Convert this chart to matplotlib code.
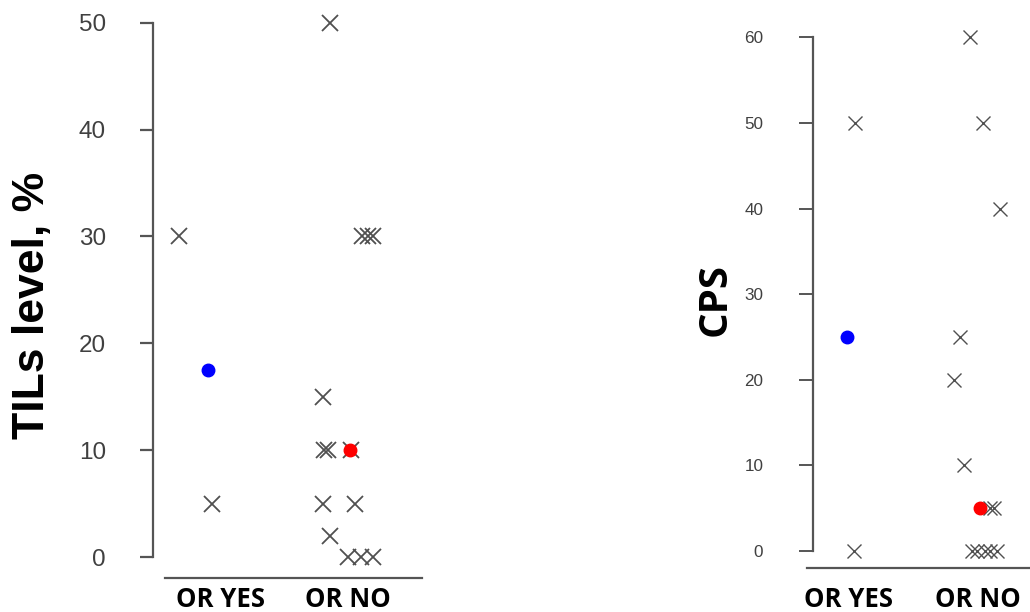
"""
Dot plots of TILs level and CPS for OR YES / OR NO groups,
with the group median drawn as a filled dot.
"""

import matplotlib
matplotlib.use("Agg")
import matplotlib.pyplot as plt

plt.rcParams["font.family"] = ["Liberation Sans", "DejaVu Sans"]

# --- data -------------------------------------------------------------------
groups = ["OR YES", "OR NO"]

# TILs level, %  (x offsets are the jitter, in group units)
tils_yes = [30, 5]
tils_yes_jit = [-0.318, -0.060]
tils_no = [50, 30, 30, 30, 15, 10, 10, 10, 5, 5, 2, 0, 0, 0]
tils_no_jit = [-0.141, 0.107, 0.159, 0.198, -0.193, -0.188, -0.156, 0.023,
               -0.198, 0.055, -0.141, 0.0, 0.099, 0.198]
tils_median = [17.5, 10]
tils_median_jit = [-0.096, 0.016]

# CPS
cps_yes = [50, 0]
cps_yes_jit = [0.054, 0.046]
cps_no = [60, 50, 40, 25, 20, 10, 5, 5, 0, 0, 0, 0, 0]
cps_no_jit = [-0.062, 0.036, 0.169, -0.138, -0.182, -0.108, 0.092, 0.123,
              -0.048, -0.010, 0.054, 0.092, 0.144]
cps_median = [25, 5]
cps_median_jit = [-0.010, 0.015]

tils_ticks = [0, 10, 20, 30, 40, 50]
cps_ticks = [0, 10, 20, 30, 40, 50, 60]

W, H = 1030, 612
AXIS = "#555555"
CROSS = "#505050"
TXT = "#404040"


def make_axes(fig, x0, x1, y_top, y_bot, centers, y_map):
    """Axes from pixel box; centers = pixel x of group 1 and 2;
    y_map = ((v0, px0), (v1, px1)) pixel positions of two y values."""
    ax = fig.add_axes([x0 / W, 1 - y_bot / H, (x1 - x0) / W, (y_bot - y_top) / H])
    ppu_x = centers[1] - centers[0]
    ax.set_xlim(1 - (centers[0] - x0) / ppu_x, 2 + (x1 - centers[1]) / ppu_x)
    (v0, p0), (v1, p1) = y_map
    ppu_y = (p0 - p1) / (v1 - v0)
    ax.set_ylim(v0 - (y_bot - p0) / ppu_y, v1 + (p1 - y_top) / ppu_y)
    ax.spines[["top", "right"]].set_visible(False)
    for s in ("left", "bottom"):
        ax.spines[s].set_color(AXIS)
        ax.spines[s].set_linewidth(1.6)
    ax.patch.set_alpha(0)
    return ax, ppu_x, centers


def px_to_x(px, centers, ppu_x):
    return 1 + (px - centers[0]) / ppu_x


def draw_group(ax, yes, yes_jit, no, no_jit, med, med_jit, lw, ms):
    ax.plot([1 + j for j in yes_jit], yes, "x", color=CROSS, ms=ms, mew=lw)
    ax.plot([2 + j for j in no_jit], no, "x", color=CROSS, ms=ms, mew=lw)
    ax.plot([1 + med_jit[0]], [med[0]], "o", color="#0000ff", ms=9, zorder=3)
    ax.plot([2 + med_jit[1]], [med[1]], "o", color="#ff0000", ms=9, zorder=3)


def style_groups(ax, pad):
    ax.set_xticks([1, 2], groups)
    ax.tick_params(axis="x", length=0, pad=pad)
    for t in ax.get_xticklabels():
        t.set_fontfamily("Open Sans")
        t.set_fontweight("bold")
        t.set_fontsize(18.5)
        t.set_color("black")


fig = plt.figure(figsize=(W / 100, H / 100), dpi=100)

# --- left panel: TILs -------------------------------------------------------
ax1, ppu1, c1 = make_axes(fig, 153.3, 430, 10, 578, (220, 348), ((0, 557), (50, 22.7)))
draw_group(ax1, tils_yes, tils_yes_jit, tils_no, tils_no_jit,
           tils_median, tils_median_jit, lw=1.3, ms=11)
ax1.spines["left"].set_bounds(0, 50)
ax1.spines["bottom"].set_bounds(px_to_x(165, c1, ppu1), px_to_x(421.7, c1, ppu1))
ax1.set_yticks(tils_ticks)
ax1.tick_params(axis="y", length=9.5, width=1.6, color=AXIS, pad=24.5,
                labelsize=17.5, labelcolor=TXT)
style_groups(ax1, 5.5)
fig.text(32.5 / W, 1 - 305 / H, "TILs level, %", rotation=90, ha="center", va="center",
         fontsize=32, fontweight="bold")

# --- right panel: CPS -------------------------------------------------------
ax2, ppu2, c2 = make_axes(fig, 806.7, 1030, 10, 568.3, (848, 978), ((0, 551), (60, 37.3)))
draw_group(ax2, cps_yes, cps_yes_jit, cps_no, cps_no_jit,
           cps_median, cps_median_jit, lw=1.0, ms=10)
ax2.spines["left"].set_position(("data", px_to_x(813.3, c2, ppu2)))
ax2.spines["left"].set_bounds(0, 60)
ax2.set_yticks(cps_ticks)
ax2.tick_params(axis="y", length=10, width=1.4, color=AXIS, pad=26,
                labelsize=12.3, labelcolor=TXT)
style_groups(ax2, 12.5)
fig.text(715 / W, 1 - 300 / H, "CPS", rotation=90, ha="center", va="center",
         fontsize=29, fontweight="bold", family="Open Sans")

fig.savefig("out.png", dpi=100)
